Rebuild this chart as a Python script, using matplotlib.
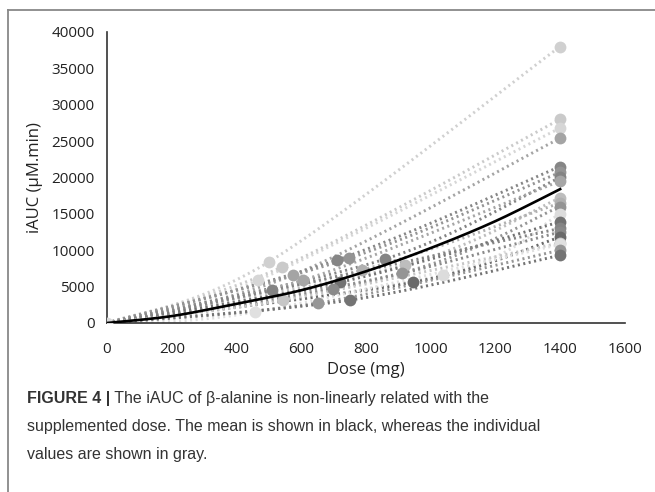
import numpy as np
import matplotlib.pyplot as plt
from matplotlib.lines import Line2D

# individual participants: low dose (mg), iAUC at low dose, iAUC at 1400 mg
low_dose = [500, 541, 467, 575, 710, 748, 860, 606, 921, 788,
            911, 1038, 720, 510, 699, 946, 544, 457, 652, 751]
low_iauc = [8400, 7700, 5900, 6600, 8650, 8900, 8800, 5900, 8000, 7300,
            6900, 6600, 5600, 4500, 4650, 5600, 3150, 1500, 2750, 3150]
high_dose = 1400
high_iauc = [38000, 28000, 26800, 25400, 21500, 20700, 20000, 19500, 17200, 16500,
             16000, 15000, 13900, 13000, 12500, 11800, 11000, 10800, 10000, 9300]
shades = ['#d0d0d0', '#cacaca', '#d6d6d6', '#a4a4a4', '#868686', '#949494', '#848484',
          '#a6a6a6', '#bdbdbd', '#b0b0b0', '#949494', '#dcdcdc', '#727272', '#848484',
          '#8a8a8a', '#6a6a6a', '#c6c6c6', '#e0e0e0', '#969696', '#747474']

# mean curve
mean_dose = [0, 200, 400, 600, 800, 1000, 1200, 1400]
mean_iauc = [0, 950, 2650, 4500, 7100, 10300, 14000, 18400]


def smooth(xs, ys, n=40):
    """Excel-like smoothed line (Catmull-Rom bezier) through the points."""
    p = np.column_stack([xs, ys]).astype(float)
    p_ext = np.vstack([p[0], p, p[-1]])
    out = []
    for i in range(len(p) - 1):
        p0, p1, p2, p3 = p_ext[i], p_ext[i + 1], p_ext[i + 2], p_ext[i + 3]
        c1 = p1 + (p2 - p0) / 6.0
        c2 = p2 - (p3 - p1) / 6.0
        t = np.linspace(0, 1, n)[:, None]
        seg = ((1 - t) ** 3) * p1 + 3 * ((1 - t) ** 2) * t * c1 + 3 * (1 - t) * t ** 2 * c2 + t ** 3 * p2
        out.append(seg)
    s = np.vstack(out)
    return s[:, 0], s[:, 1]


fig = plt.figure(figsize=(6.55, 4.92), dpi=100)
ax = fig.add_axes([0.1634, 0.3435, 0.7906, 0.5915])

for d, v1, v2, c in zip(low_dose, low_iauc, high_iauc, shades):
    xs = [0, d, high_dose]
    ys = [0, v1, v2]
    sx, sy = smooth(xs, ys)
    ax.plot(sx, sy, color=c, lw=2.1, linestyle=(0, (0.7, 1.2)), zorder=2)
    ax.plot(xs[1:], ys[1:], 'o', color=c, ms=8.5, mec='none', zorder=3)

ax.plot([0], [0], 'o', color='#d8d8d8', ms=8.5, mec='none', zorder=3)

mx, my = smooth(mean_dose, mean_iauc)
ax.plot(mx, my, color='black', lw=1.9, zorder=5)

ax.set_xlim(0, 1600)
ax.set_ylim(0, 40000)
ax.set_xticks(range(0, 1601, 200))
ax.set_yticks(range(0, 40001, 5000))
ax.tick_params(length=0, labelsize=11, colors='#222222')
ax.tick_params(axis='x', pad=14)
ax.tick_params(axis='y', pad=9)
for lab in ax.get_xticklabels() + ax.get_yticklabels():
    lab.set_family('Open Sans')
for side in ['top', 'right']:
    ax.spines[side].set_visible(False)
for side in ['left', 'bottom']:
    ax.spines[side].set_color('#333333')
    ax.spines[side].set_linewidth(1.2)

ax.set_xlabel('Dose (mg)', family='Open Sans', fontsize=12, color='#222222', labelpad=3)
ax.set_ylabel('iAUC (μM.min)', family='Open Sans', fontsize=12, color='#222222', labelpad=6)

# outer frame (top and left rules)
fig.add_artist(Line2D([8 / 655, 1], [1 - 10 / 492, 1 - 10 / 492], color='#888888', lw=1.3))
fig.add_artist(Line2D([8 / 655, 8 / 655], [0, 1 - 10 / 492], color='#888888', lw=1.3))

# caption
cap_kw = dict(family='Liberation Sans', fontsize=11.5, color='#333333')
t1 = fig.text(27 / 655, 1 - 403 / 492, 'FIGURE 4 |', fontweight='bold', va='baseline', **cap_kw)
fig.canvas.draw()
ax.annotate(' The iAUC of β-alanine is non-linearly related with the', xy=(1, 0), xycoords=t1,
            va='bottom', annotation_clip=False, **cap_kw)
fig.text(27 / 655, 1 - 431 / 492, 'supplemented dose. The mean is shown in black, whereas the individual',
         va='baseline', **cap_kw)
fig.text(27 / 655, 1 - 459 / 492, 'values are shown in gray.', va='baseline', **cap_kw)

fig.savefig('out.png', dpi=100)
